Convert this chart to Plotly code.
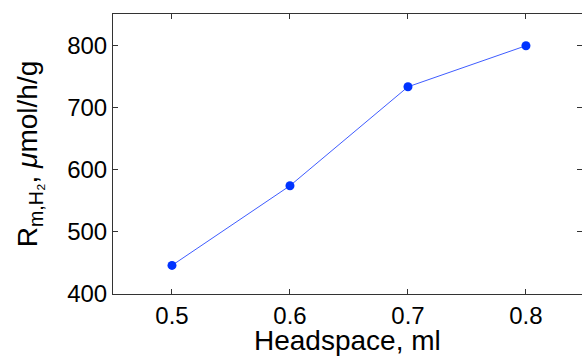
import plotly.graph_objects as go

headspace_ml = [0.5, 0.6, 0.7, 0.8]
rate_umol_h_g = [446, 574, 733, 799]
x_ticks = [0.5, 0.6, 0.7, 0.8]
y_ticks = [400, 500, 600, 700, 800]

fig = go.Figure()
fig.add_trace(go.Scatter(
    x=headspace_ml, y=rate_umol_h_g,
    mode="lines+markers",
    line=dict(color="#3f5cff", width=1),
    marker=dict(color="#0033ff", size=9),
    showlegend=False,
))

axis_common = dict(
    showgrid=False, zeroline=False,
    showline=True, linecolor="#333333", linewidth=1, mirror="ticks",
    ticks="inside", ticklen=5, tickcolor="#333333",
    tickfont=dict(family="Liberation Sans, Arial", size=24, color="#000000"),
)
title_font = dict(family="Liberation Sans, Arial", size=28, color="#000000")

fig.update_layout(
    width=582, height=356,
    margin=dict(l=113, r=0, t=14, b=62),
    paper_bgcolor="white", plot_bgcolor="white",
    xaxis=dict(
        range=[0.45, 0.8475], tickvals=x_ticks,
        tickformat=".1f",
        **axis_common,
    ),
    yaxis=dict(
        range=[400, 850], tickvals=y_ticks,
        title=dict(text="R<sub>m,H₂</sub>, <i>μ</i>mol/h/g", standoff=21, font=title_font),
        **axis_common,
    ),
)

# x-axis title drawn as an annotation so it can sit partly below the page edge
fig.add_annotation(
    text="Headspace, ml", xref="paper", yref="paper", x=0.5, y=0,
    xanchor="center", yanchor="top", yshift=-29, showarrow=False,
    font=title_font,
)

fig.write_html("out.html")
